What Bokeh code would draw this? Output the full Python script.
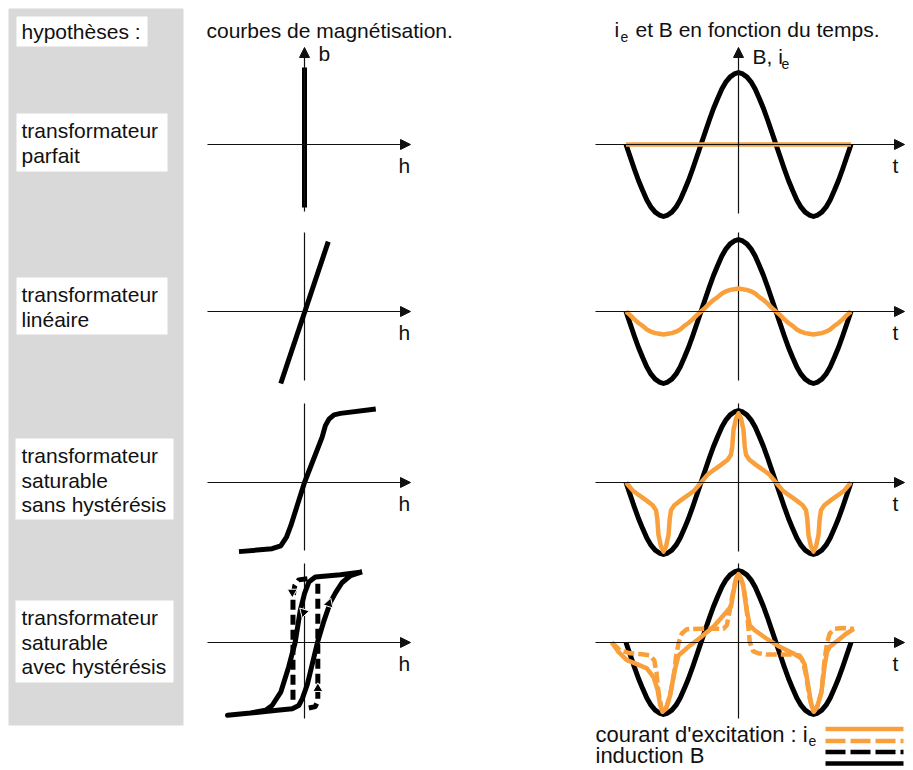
from bokeh.plotting import figure
from bokeh.models import Range1d, Arrow, NormalHead
from bokeh.embed import file_html
from bokeh.resources import INLINE
from bokeh.core.properties import value

# ---------------- data ----------------
hypotheses_title = "hypothèses :"
hypotheses = [
    ["transformateur", "parfait"],
    ["transformateur", "linéaire"],
    ["transformateur", "saturable", "sans hystérésis"],
    ["transformateur", "saturable", "avec hystérésis"],
]
mag_title = "courbes de magnétisation."
time_title = ["i", "e", "et B en fonction du temps."]
mag_axis_labels = ["h", "b"]
time_axis_labels = ["t", "B, i", "e"]
legend_labels = ["courant d'excitation : i", "e", "induction B"]

# magnetisation curves b(h), b normalised to saturation
mag_parfait_h = [0.0, 0.0]
mag_parfait_b = [1.07, -0.875]
mag_lineaire_h = [-0.33, 0.33]
mag_lineaire_b = [-1.0, 0.97]
mag_sat_h = [-0.91, -0.45, -0.33, -0.25, -0.19, 0.0, 0.245, 0.29, 0.34, 0.41, 0.5, 0.99]
mag_sat_b = [-0.96, -0.92, -0.88, -0.76, -0.60, 0.0, 0.63, 0.79, 0.88, 0.94, 0.96, 1.02]
# hysteresis loop (upper branch, then lower branch)
hyst_h = [0.80, 0.50, 0.15, 0.06, 0.0, -0.06, -0.13, -0.22, -0.33, -0.45, -0.54, -0.75, -1.07,
          -0.75, -0.38, -0.17, -0.08, -0.03, 0.04, 0.18, 0.27, 0.36, 0.43, 0.52, 0.64, 0.80]
hyst_b = [0.98, 0.94, 0.91, 0.84, 0.68, 0.44, 0.0, -0.34, -0.69, -0.875, -0.94, -0.98, -1.01,
          -0.98, -0.94, -0.92, -0.875, -0.78, -0.58, 0.0, 0.30, 0.56, 0.69, 0.83, 0.93, 0.98]
rect_left_h = [0.04, -0.08, -0.135, -0.16, -0.16, -0.16]
rect_left_b = [0.885, 0.87, 0.79, 0.63, -0.71, -0.83]
rect_right_h = [0.06, 0.15, 0.185, 0.185, 0.185]
rect_right_b = [-0.91, -0.89, -0.81, 0.86, 0.90]
loop_arrow_h = [-0.17, 0.185, -0.01, 0.34]
loop_arrow_b = [0.70, -0.64, 0.42, 0.54]

# time curves: t in degrees, values normalised to peak induction
t_deg = [-270, -260, -250, -240, -230, -220, -210, -200, -190, -180,
         -170, -160, -150, -140, -130, -120, -110, -100, -90,
         -80, -70, -60, -50, -40, -30, -20, -10, 0,
         10, 20, 30, 40, 50, 60, 70, 80, 90,
         100, 110, 120, 130, 140, 150, 160, 170, 180,
         190, 200, 210, 220, 230, 240, 250, 260, 270]
induction_B = [0, -0.17, -0.34, -0.5, -0.64, -0.77, -0.87, -0.94, -0.98, -1.0,
               -0.98, -0.94, -0.87, -0.77, -0.64, -0.5, -0.34, -0.17, 0,
               0.17, 0.34, 0.5, 0.64, 0.77, 0.87, 0.94, 0.98, 1.0,
               0.98, 0.94, 0.87, 0.77, 0.64, 0.5, 0.34, 0.17, 0,
               -0.17, -0.34, -0.5, -0.64, -0.77, -0.87, -0.94, -0.98, -1.0,
               -0.98, -0.94, -0.87, -0.77, -0.64, -0.5, -0.34, -0.17, 0]
ie_lineaire = [0, -0.05, -0.11, -0.16, -0.2, -0.25, -0.28, -0.3, -0.31, -0.32,
               -0.31, -0.3, -0.28, -0.25, -0.2, -0.16, -0.11, -0.05, 0,
               0.05, 0.11, 0.16, 0.2, 0.25, 0.28, 0.3, 0.31, 0.32,
               0.31, 0.3, 0.28, 0.25, 0.2, 0.16, 0.11, 0.05, 0,
               -0.05, -0.11, -0.16, -0.2, -0.25, -0.28, -0.3, -0.31, -0.32,
               -0.31, -0.3, -0.28, -0.25, -0.2, -0.16, -0.11, -0.05, 0]
ie_parfait_t = [-270, 270]
ie_parfait = [0, 0]
ie_sat_t = [-270, -254, -238, -222, -206, -198, -195, -192, -186, -180,
            -174, -168, -165, -162, -154, -138, -122, -106, -90,
            -74, -58, -42, -26, -18, -15, -12, -6, 0,
            6, 12, 15, 18, 26, 42, 58, 74, 90,
            106, 122, 138, 154, 162, 165, 168, 174, 180,
            186, 192, 195, 198, 206, 222, 238, 254, 270]
ie_sat = [0, -0.11, -0.18, -0.245, -0.315, -0.385, -0.5, -0.73, -0.89, -0.96,
          -0.89, -0.73, -0.5, -0.385, -0.315, -0.245, -0.18, -0.11, 0,
          0.11, 0.18, 0.245, 0.315, 0.385, 0.5, 0.73, 0.89, 0.96,
          0.89, 0.73, 0.5, 0.385, 0.315, 0.245, 0.18, 0.11, 0,
          -0.11, -0.18, -0.245, -0.315, -0.385, -0.5, -0.73, -0.89, -0.96,
          -0.89, -0.73, -0.5, -0.385, -0.315, -0.245, -0.18, -0.11, 0]
ie_hyst_t = [-304, -288, -268, -244, -220, -204, -194, -188, -182, -174,
             -164, -154, -144, -120, -92, -60, -28, -18, -12, -6,
             0, 6, 11, 19, 27, 39, 67, 99, 131, 151,
             159, 167, 175, 181, 189, 199, 207, 212, 219, 239,
             259, 277]
ie_hyst = [0, -0.13, -0.245, -0.30, -0.36, -0.48, -0.66, -0.87, -0.96, -0.92,
           -0.73, -0.41, -0.18, -0.06, 0.065, 0.22, 0.43, 0.50, 0.70, 0.89,
           0.95, 0.89, 0.8, 0.47, 0.24, 0.17, 0.055, -0.06, -0.15, -0.22,
           -0.31, -0.59, -0.87, -0.96, -0.89, -0.69, -0.31, -0.14, -0.06, 0.03,
           0.125, 0.19]
ie_rect_t = [-304, -284, -260, -236, -212, -202, -197, -192, -184, -182,
             -174, -164, -154, -150, -144, -136, -124, -92, -60, -36,
             -28, -23, -16, -8, 0, 11, 18, 27, 35, 47,
             67, 99, 131, 147, 155, 162, 171, 179, 181, 189,
             199, 207, 213, 219, 231, 251, 271, 277]
ie_rect = [0, -0.11, -0.15, -0.16, -0.18, -0.25, -0.41, -0.69, -0.94, -0.96,
           -0.92, -0.73, -0.41, -0.2, -0.01, 0.125, 0.185, 0.19, 0.19, 0.19,
           0.24, 0.38, 0.61, 0.84, 0.95, 0.8, 0.56, 0.01, -0.12, -0.15,
           -0.167, -0.168, -0.168, -0.18, -0.27, -0.45, -0.78, -0.95, -0.96, -0.89,
           -0.69, -0.22, 0.01, 0.125, 0.19, 0.2, 0.19, 0.19]

# ---------------- layout / style ----------------
W, H = 912, 770
PX0, PY0 = 0, 0
TDY = -7  # baseline correction for svg text
FONT = value("Liberation Sans")
FS = "21px"
FS_LEG = "22px"
FS_SUB = "14px"
ORANGE = "#f9a03c"
GREY = "#d9d9d9"
INK = "#111111"

ROW_Y = [144, 311, 482, 642]
MAG_X0 = 304
TIME_X0 = 738
UNIT = 72.0
DEG = 150.0 / 360.0
V_LEFT = [(47, 211), (232, 380), (403, 550), (563, 718)]
V_RIGHT = [(47, 213), (232, 380), (403, 551), (563, 718)]
BOXES = [(16, 167, 113, 171), (16, 167, 277, 334), (15, 173, 438, 519), (15, 173, 600, 682)]
LEG_Y = [728.5, 740.5, 751.5, 763]
LEG_TEXT_Y = [740.5, 761.5]

p = figure(width=W, height=H, x_range=Range1d(PX0, PX0 + W), y_range=Range1d(PY0 + H, PY0),
           output_backend="svg", toolbar_location=None, min_border=0,
           x_axis_type=None, y_axis_type=None)
p.outline_line_color = None
p.background_fill_color = "white"
p.border_fill_color = "white"


def xr(x0, s):
    return Range1d((PX0 - x0) / s, (PX0 + W - x0) / s)


def yr(y0, s):
    return Range1d((y0 - (PY0 + H)) / s, (y0 - PY0) / s)


p.extra_x_ranges = {"h": xr(MAG_X0, UNIT), "t": xr(TIME_X0, DEG)}
p.extra_y_ranges = {f"r{i}": yr(y, UNIT) for i, y in enumerate(ROW_Y)}

# grey column and white label boxes
p.quad(left=[8], right=[183], top=[8], bottom=[725], fill_color=GREY, line_color=None)
p.quad(left=[16] + [b[0] for b in BOXES], right=[147] + [b[1] for b in BOXES],
       top=[16] + [b[2] for b in BOXES], bottom=[46] + [b[3] for b in BOXES],
       fill_color="white", line_color=None)

tx, ty, tt = [21], [38], [hypotheses_title]
for (l, r, top, bot), lines in zip(BOXES, hypotheses):
    for k, s in enumerate(lines):
        tx.append(21)
        ty.append(top + 24 + 24.5 * k)
        tt.append(s)
tx += [206, 614, 635]
ty += [37, 36, 36]
tt += [mag_title, time_title[0], time_title[2]]
tx += [318, 752]
ty += [60, 63]
tt += [mag_axis_labels[1], time_axis_labels[1]]
for y in ROW_Y:
    tx += [398, 892]
    ty += [y + 28, y + 28]
    tt += [mag_axis_labels[0], time_axis_labels[0]]
p.text(x=tx, y=[v + TDY for v in ty], text=tt, text_font=FONT, text_font_size=FS, text_color=INK,
       text_baseline="alphabetic", text_align="left")
p.text(x=[595, 595], y=[v + TDY for v in LEG_TEXT_Y], text=[legend_labels[0], legend_labels[2]],
       text_font=FONT, text_font_size=FS_LEG, text_color=INK,
       text_baseline="alphabetic", text_align="left")
# subscripts
p.text(x=[620, 781, 808], y=[41 + TDY + 2, 68 + TDY + 2, LEG_TEXT_Y[0] + 5 + TDY + 2],
       text=[time_title[1], time_axis_labels[2], legend_labels[1]],
       text_font=FONT, text_font_size=FS_SUB, text_color=INK,
       text_baseline="alphabetic", text_align="left")


def arrow(x0, y0, x1, y1):
    p.add_layout(Arrow(end=NormalHead(size=10, fill_color=INK, line_color=INK, line_width=1),
                       x_start=x0, y_start=y0, x_end=x1, y_end=y1,
                       line_width=1.2, line_color=INK))


for i, y in enumerate(ROW_Y):
    arrow(207, y, 410, y)
    arrow(595, y, 904, y)
    lt, lb = V_LEFT[i]
    rt, rb = V_RIGHT[i]
    if i == 0:
        arrow(MAG_X0, lb, MAG_X0, lt)
        arrow(TIME_X0, rb, TIME_X0, rt)
    else:
        p.segment(x0=[MAG_X0, TIME_X0], y0=[lt, rt], x1=[MAG_X0, TIME_X0], y1=[lb, rb],
                  line_color=INK, line_width=1.2)

# magnetisation curves
mk = dict(x_range_name="h", line_color="black", line_width=5, line_join="round")
p.line(mag_parfait_h, mag_parfait_b, y_range_name="r0", **mk)
p.line(mag_lineaire_h, mag_lineaire_b, y_range_name="r1", **mk)
p.line(mag_sat_h, mag_sat_b, y_range_name="r2", **mk)
p.line(rect_left_h, rect_left_b, y_range_name="r3", line_dash="10 5", **mk)
p.line(rect_right_h, rect_right_b, y_range_name="r3", line_dash="10 5", **mk)
p.line(hyst_h, hyst_b, y_range_name="r3", **mk)
p.scatter(loop_arrow_h, loop_arrow_b, x_range_name="h", y_range_name="r3", marker="triangle",
          size=10, angle=[3.14159, 0.0, 2.85, -0.31], fill_color="black", line_color="white",
          line_width=1)

# time curves
bk = dict(x_range_name="t", line_color="black", line_width=5, line_join="round")
ok = dict(x_range_name="t", line_color=ORANGE, line_width=4.5, line_join="round")
for i in range(4):
    p.line(t_deg, induction_B, y_range_name=f"r{i}", **bk)
p.line(ie_parfait_t, ie_parfait, y_range_name="r0", **ok)
p.line(t_deg, ie_lineaire, y_range_name="r1", **ok)
p.line(ie_sat_t, ie_sat, y_range_name="r2", **ok)
p.line(ie_rect_t, ie_rect, y_range_name="r3", line_dash="11 4", **ok)
p.line(ie_hyst_t, ie_hyst, y_range_name="r3", **ok)

# legend keys
LEG_STYLE = [(ORANGE, "solid"), (ORANGE, "20 5"), ("black", "20 5"), ("black", "solid")]
for ly, (col, dash) in zip(LEG_Y, LEG_STYLE):
    p.line([825, 903], [ly, ly], line_color=col, line_width=4.5, line_dash=dash)

open("out.html", "w").write(file_html(p, INLINE))
